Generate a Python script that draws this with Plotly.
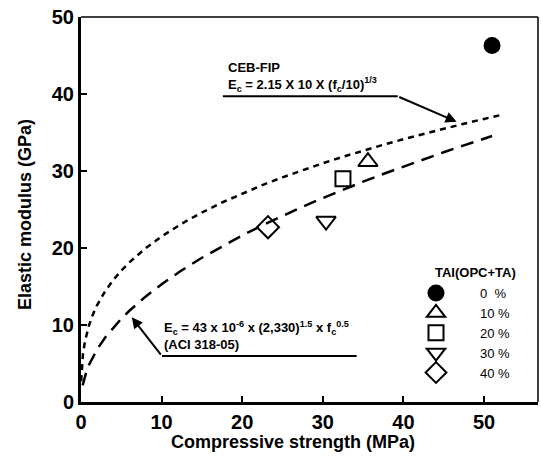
import plotly.graph_objects as go

# Measured points: compressive strength (MPa) vs elastic modulus (GPa)
series_names = ["0  %", "10 %", "20 %", "30 %", "40 %"]
strength = [51.0, 35.6, 32.5, 30.4, 23.2]
modulus = [46.3, 31.2, 29.0, 23.5, 22.7]
symbols = ["circle", "triangle-up-open", "square-open", "triangle-down-open", "diamond-open"]
marker_sizes = [15, 17, 15, 17, 17]

# Code-model curves, evaluated at these strengths (MPa)
fc_ceb = [0.02, 0.1, 0.25, 0.5, 1, 1.5, 2, 3, 4, 5, 6, 8, 10, 12.5, 15, 17.5, 20,
          22.5, 25, 27.5, 30, 32.5, 35, 37.5, 40, 42.5, 45, 47.5, 50, 52]
fc_aci = [0.2, 0.4, 0.7, 1, 1.5, 2, 3, 4, 5, 6, 8, 10, 12.5, 15, 17.5, 20,
          22.5, 25, 27.5, 30, 32.5, 35, 37.5, 40, 42.5, 45, 47.5, 50, 51]

# CEB-FIP: Ec = 2.15 x 10 x (fc/10)^(1/3)   [GPa]
ceb_coef, ceb_ref, ceb_exp = 2.15 * 10, 10.0, 1.0 / 3.0
# ACI 318-05: Ec = 43e-6 x (2330)^1.5 x fc^0.5   [MPa -> GPa]
aci_coef, aci_density, aci_exp = 43e-6, 2330.0, 0.5

E_ceb = [ceb_coef * (f / ceb_ref) ** ceb_exp for f in fc_ceb]
E_aci = [aci_coef * aci_density ** 1.5 * f ** aci_exp for f in fc_aci]

x_ticks = [0, 10, 20, 30, 40, 50]
y_ticks = [0, 10, 20, 30, 40, 50]

FONT = "Liberation Sans, Arial, sans-serif"

fig = go.Figure()

fig.add_trace(go.Scatter(x=fc_ceb, y=E_ceb, mode="lines", showlegend=False,
                         line=dict(color="black", width=2.5, dash="6px,5px"),
                         hoverinfo="skip"))
fig.add_trace(go.Scatter(x=fc_aci, y=E_aci, mode="lines", showlegend=False,
                         line=dict(color="black", width=2.5, dash="13px,8px"),
                         hoverinfo="skip"))

for name, xv, yv, sym, sz in zip(series_names, strength, modulus, symbols, marker_sizes):
    fig.add_trace(go.Scatter(
        x=[xv], y=[yv], mode="markers", name=name,
        marker=dict(symbol=sym, size=sz, color="black",
                    line=dict(color="black", width=2)),
    ))

annotations = [
    # CEB-FIP label
    dict(x=18.0, y=42.2, xref="x", yref="y", xanchor="left", yanchor="middle",
         align="left", showarrow=False,
         text="<b>CEB-FIP<br>E<sub>c</sub> = 2.15 X 10 X (f<sub>c</sub>/10)<sup>1/3</sup></b>",
         font=dict(family=FONT, size=13, color="black")),
    dict(x=46.6, y=36.4, ax=39.3, ay=39.7, xref="x", yref="y", axref="x", ayref="y",
         text="", showarrow=True, arrowhead=2, arrowsize=1.1, arrowwidth=2, arrowcolor="black"),
    # ACI label
    dict(x=10.0, y=8.6, xref="x", yref="y", xanchor="left", yanchor="middle",
         align="left", showarrow=False,
         text="<b>E<sub>c</sub> = 43 x 10<sup>-6</sup> x (2,330)<sup>1.5</sup> x f<sub>c</sub><sup>0.5</sup><br>(ACI 318-05)</b>",
         font=dict(family=FONT, size=13, color="black")),
    dict(x=6.3, y=11.0, ax=10.05, ay=5.97, xref="x", yref="y", axref="x", ayref="y",
         text="", showarrow=True, arrowhead=2, arrowsize=1.1, arrowwidth=2, arrowcolor="black"),
    # legend heading
    dict(x=475, y=272, xref="paper", yref="paper", showarrow=False,
         xanchor="center", yanchor="middle",
         text="<b>TAI(OPC+TA)</b>",
         font=dict(family=FONT, size=13, color="black")),
    # axis titles (placed by pixel centre, converted below)
    dict(x=293, y=442, xref="paper", yref="paper", showarrow=False,
         xanchor="center", yanchor="middle",
         text="<b>Compressive strength (MPa)</b>",
         font=dict(family=FONT, size=18, color="black")),
    dict(x=25, y=215, xref="paper", yref="paper", showarrow=False, textangle=-90,
         xanchor="center", yanchor="middle",
         text="<b>Elastic modulus (GPa)</b>",
         font=dict(family=FONT, size=18, color="black")),
]

L, R, T, B = 81, 3, 17, 57
W, H = 541, 459
pw, ph = W - L - R, H - T - B
for a in annotations[4:]:
    a["x"] = (a["x"] - L) / pw
    a["y"] = (H - B - a["y"]) / ph

shapes = [
    # label underlines
    dict(type="line", xref="x", yref="y", x0=17.6, x1=39.3, y0=39.7, y1=39.7,
         line=dict(color="black", width=2)),
    dict(type="line", xref="x", yref="y", x0=10.05, x1=34.2, y0=5.97, y1=5.97,
         line=dict(color="black", width=2)),
    # thin top and right frame
    dict(type="line", xref="paper", yref="paper", x0=0, x1=1, y0=1, y1=1,
         line=dict(color="black", width=1.5)),
    dict(type="line", xref="paper", yref="paper", x0=1, x1=1, y0=0, y1=1,
         line=dict(color="black", width=1.5)),
]

axis_common = dict(showgrid=False, zeroline=False, showline=True, linecolor="black",
                   linewidth=3, ticks="inside", ticklen=6, tickwidth=2, tickcolor="black",
                   tickfont=dict(family=FONT, size=20, color="black"))

fig.update_layout(
    width=W, height=H,
    margin=dict(l=L, r=R, t=T, b=B),
    paper_bgcolor="white", plot_bgcolor="white",
    xaxis=dict(range=[0, 56.7], tickvals=x_ticks, ticktext=[f"<b>{v}</b>" for v in x_ticks],
               **axis_common),
    yaxis=dict(range=[0, 50], tickvals=y_ticks, ticktext=[f"<b>{v}</b>" for v in y_ticks],
               **axis_common),
    legend=dict(x=(392 - L) / pw, y=(H - B - 278) / ph, xanchor="left", yanchor="top",
                bgcolor="rgba(0,0,0,0)", itemwidth=78,
                font=dict(family=FONT, size=13, color="black"), tracegroupgap=0),
    annotations=annotations,
    shapes=shapes,
)

fig.write_html("out.html")
